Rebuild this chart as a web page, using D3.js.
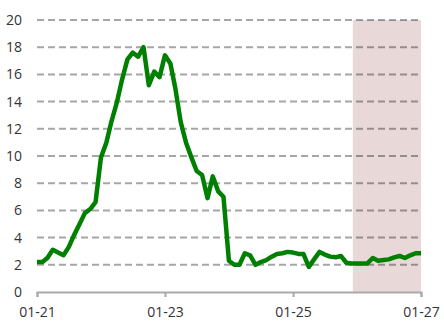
<!DOCTYPE html>
<html><head><meta charset="utf-8">
<script src="https://cdn.jsdelivr.net/npm/d3@7"></script>
<style>html,body{margin:0;padding:0;background:#fff}svg{display:block}</style>
</head><body><div id="chart"></div>
<script>
const startMonth = "2021-01";
const values = [
 2.2,2.2,2.5,3.1,2.9,2.7,3.3,4.2,5.0,5.8,6.1,6.6,
 9.9,11.0,12.5,13.9,15.6,17.1,17.6,17.3,18.0,15.2,16.2,15.8,
 17.4,16.8,15.0,12.5,11.0,9.9,8.9,8.6,6.9,8.5,7.4,7.0,
 2.3,2.0,2.0,2.85,2.7,2.0,2.2,2.35,2.6,2.8,2.85,2.95,
 2.9,2.8,2.8,1.85,2.4,2.95,2.75,2.6,2.55,2.65,2.15,2.1,
 2.1,2.1,2.1,2.5,2.3,2.35,2.4,2.55,2.65,2.5,2.7,2.85,
 2.85
];
const yTicks = [0,2,4,6,8,10,12,14,16,18,20];
const xTickLabels = ["01-21","01-23","01-25","01-27"];
const xTickDates = ["2021-01-01","2023-01-01","2025-01-01","2027-01-01"];
const shadeStart = "2025-12-08";
const shadeEnd = "2027-01-01";

const W = 444, H = 327;
const margin = {left:37, right:23, top:20, bottom:35};
const parse = d3.timeParse("%Y-%m-%d");
const start = parse(startMonth + "-01");
const data = values.map((v,i)=>({date:d3.timeMonth.offset(start,i), v}));

const x = d3.scaleTime().domain([parse("2021-01-01"), parse("2027-01-01")]).range([margin.left, W-margin.right]);
const y = d3.scaleLinear().domain([0,20]).range([H-margin.bottom, margin.top]);

const svg = d3.select("#chart").append("svg").attr("width",W).attr("height",H);
const font = "'Open Sans', sans-serif";

// shaded forecast region
svg.append("rect")
  .attr("x", x(parse(shadeStart)))
  .attr("y", y(20))
  .attr("width", x(parse(shadeEnd)) - x(parse(shadeStart)))
  .attr("height", y(0) - y(20))
  .attr("fill", "#e8d8d8");

// gridlines
svg.append("g").selectAll("line").data(yTicks.filter(t=>t>0)).join("line")
  .attr("x1", margin.left).attr("x2", W-margin.right)
  .attr("y1", d=>y(d)).attr("y2", d=>y(d))
  .attr("stroke","rgba(0,0,0,0.35)").attr("stroke-width",2)
  .attr("stroke-dasharray","7,4");

// y labels
svg.append("g").selectAll("text").data(yTicks).join("text")
  .attr("x", 22).attr("y", d=>y(d)).attr("dy","0.36em")
  .attr("text-anchor","end")
  .attr("font-family",font).attr("font-size",14).attr("fill","#333")
  .text(d=>d);

// x axis
const xAxis = d3.axisBottom(x)
  .tickValues(xTickDates.map(parse))
  .tickFormat((d,i)=>xTickLabels[i])
  .tickSize(5).tickPadding(10);
const gx = svg.append("g").attr("transform",`translate(0,${y(0)})`).call(xAxis);
gx.select(".domain").attr("stroke","#aaa").attr("stroke-width",2);
gx.selectAll(".tick line").attr("stroke","#aaa").attr("stroke-width",2);
gx.selectAll(".tick text").attr("font-family",font).attr("font-size",14).attr("fill","#333");

// line
const line = d3.line().x(d=>x(d.date)).y(d=>y(d.v));
svg.append("path").datum(data)
  .attr("d", line)
  .attr("fill","none").attr("stroke","#008000")
  .attr("stroke-width",4.5).attr("stroke-linejoin","round").attr("stroke-linecap","butt");
</script></body></html>
